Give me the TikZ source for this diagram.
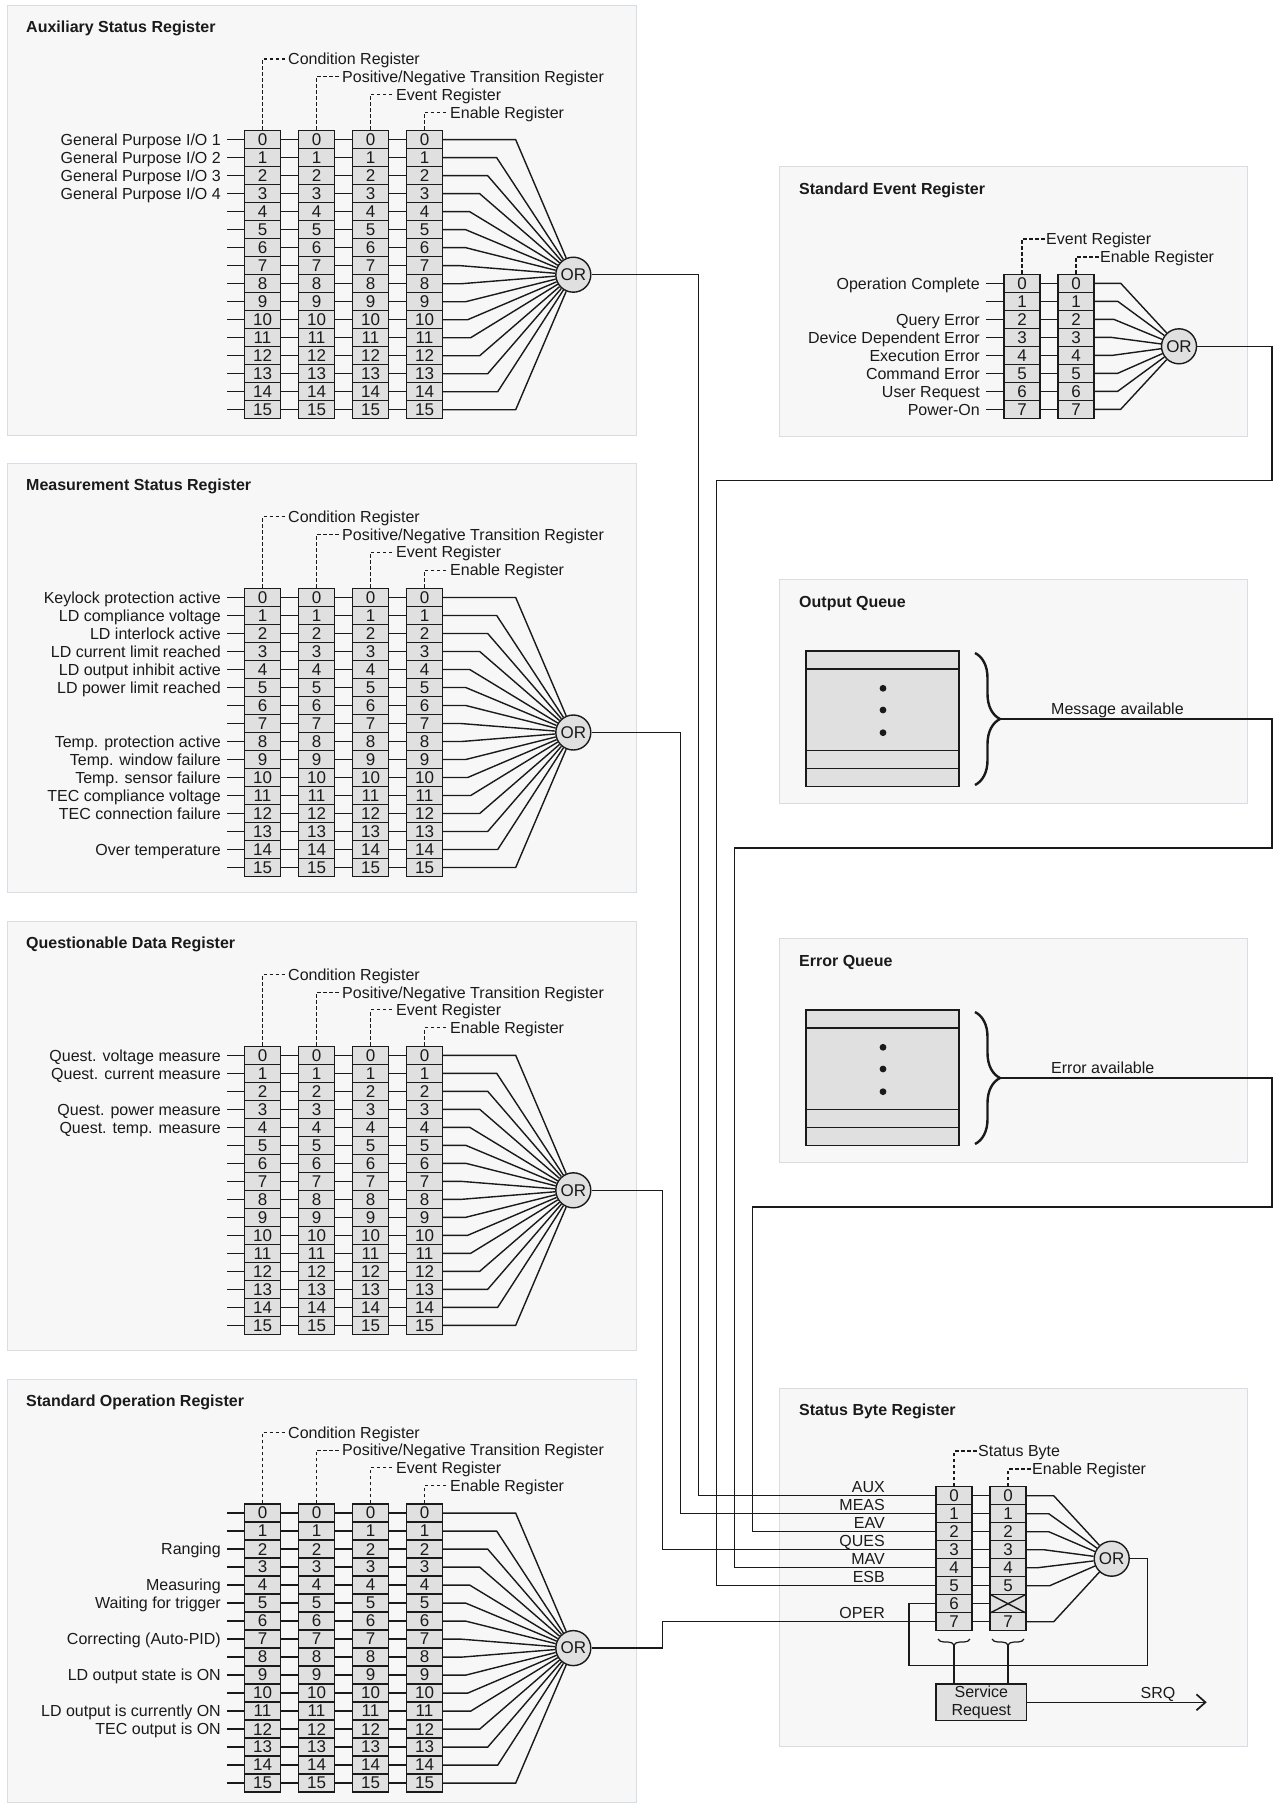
\documentclass[tikz,border=0pt]{standalone}
\usepackage{fontspec}
\setmainfont{Liberation Sans}
\usetikzlibrary{calc,decorations.pathreplacing,arrows.meta}
\definecolor{panelfill}{HTML}{F7F7F7}
\definecolor{panelline}{HTML}{D8DDE4}
\definecolor{cellfill}{HTML}{E0E0E0}
\definecolor{ink}{HTML}{1A1A1A}
\newcommand\dfont{\fontsize{16}{18}\selectfont}
\newcommand\cfont{\fontsize{17}{18}\selectfont}
\tikzset{
  panel/.style={draw=panelline,fill=panelfill,line width=1pt},
  cell/.style={draw=ink,fill=cellfill,line width=1.4pt,minimum width=36pt,minimum height=18pt,inner sep=0pt,font=\cfont,text=ink},
  wire/.style={draw=ink,line width=1.4pt},
  orgate/.style={circle,draw=ink,fill=cellfill,line width=1.4pt,minimum size=35pt,inner sep=0pt,font=\cfont,text=ink},
  lbl/.style={inner sep=0pt,font=\dfont,text=ink,anchor=east,text height=11.5pt,text depth=0pt},
  blbl/.style={inner sep=0pt,font=\dfont,text=ink,anchor=base east},
  ttl/.style={inner sep=0pt,font=\dfont\bfseries,text=ink,anchor=base west},
  dlbl/.style={inner xsep=1.5pt,inner ysep=0pt,font=\dfont,text=ink,anchor=west,text height=11.5pt,text depth=0pt},
  dsh/.style={draw=ink,line width=1.1pt,dash pattern=on 3.5pt off 2.5pt},
  qcell/.style={draw=ink,fill=cellfill,line width=1.4pt,inner sep=0pt,minimum width=153pt},
  bigbrace/.style={draw=ink,line width=2.4pt,decorate,decoration={brace,amplitude=25pt}},
  smallbrace/.style={draw=ink,line width=1.2pt,decorate,decoration={brace,amplitude=6pt}},
}
% left 16-bit register panel: #1 prefix, #2 top, #3 title, #4 height
\newcommand\leftreg[4]{%
  \path[panel] (7,#2) rectangle (636,{#2+#4});
  \node[ttl] (#1-t) at (26,{#2+27}) {#3};
  \foreach \c in {0,1,2,3}{%
    \foreach \r in {0,...,15}{%
      \node[cell] (#1-\c-\r) at ({262.5+54*\c},{#2+133.7+18*\r}) {\r};
    }%
  }%
  \node[orgate] (#1-or) at (573.3,{#2+268.7}) {OR};
  \foreach \r/\fx in {0/515,1/496,2/487,3/479,4/469,5/465,6/465,7/460,8/461,9/465,10/467,11/470,12/479,13/487,14/497,15/515}{%
    \coordinate (#1-s-\r) at (227,{#2+133.7+18*\r});
    \draw[wire] (#1-s-\r) -- (#1-0-\r.west);
    \draw[wire] (#1-0-\r.east) -- (#1-1-\r.west);
    \draw[wire] (#1-1-\r.east) -- (#1-2-\r.west);
    \draw[wire] (#1-2-\r.east) -- (#1-3-\r.west);
    \draw[wire] (#1-3-\r.east) -- ++({\fx-442.5},0) -- (#1-or);
  }%
  \node[dlbl] (#1-d0) at (286.5,{#2+53}) {Condition Register};
  \node[dlbl] (#1-d1) at (340.5,{#2+70.7}) {Positive/Negative Transition Register};
  \node[dlbl] (#1-d2) at (394.5,{#2+88.3}) {Event Register};
  \node[dlbl] (#1-d3) at (448.5,{#2+106.3}) {Enable Register};
  \draw[dsh] (#1-0-0.north) |- (#1-d0.west);
  \draw[dsh] (#1-1-0.north) |- (#1-d1.west);
  \draw[dsh] (#1-2-0.north) |- (#1-d2.west);
  \draw[dsh] (#1-3-0.north) |- (#1-d3.west);
}
\newcommand\inlbl[3]{\node[lbl] (#1-l#2) at ($(#1-s-#2)+(-6,0)$) {#3};}
% queue panel: #1 prefix, #2 top, #3 title, #4 message
\newcommand\queue[4]{%
  \path[panel] (779,#2) rectangle (1247,{#2+224});
  \node[ttl] (#1-t) at (799,{#2+28}) {#3};
  \node[qcell,minimum height=18pt] (#1-a) at (882.5,{#2+81}) {};
  \node[qcell,minimum height=81.3pt] (#1-b) at (882.5,{#2+130.65}) {};
  \node[qcell,minimum height=18pt] (#1-c) at (882.5,{#2+180.3}) {};
  \node[qcell,minimum height=18.4pt] (#1-d) at (882.5,{#2+198.5}) {};
  \fill[ink] (883,{#2+109.3}) circle (3.4pt);
  \fill[ink] (883,{#2+131}) circle (3.4pt);
  \fill[ink] (883,{#2+153.7}) circle (3.4pt);
  \draw[bigbrace] (975,{#2+74}) -- (975,{#2+206});
  \coordinate (#1-tip) at (1000,{#2+140});
  \node[anchor=base west,inner sep=0pt,font=\dfont,text=ink] (#1-m) at (1051,{#2+135}) {#4};
}
\begin{document}
\begin{tikzpicture}[x=1pt,y=-1pt]
\useasboundingbox (0,0) rectangle (1277,1803);
\fill[white] (0,0) rectangle (1277,1803);

% ---------- left panels ----------
\leftreg{a}{6}{Auxiliary Status Register}{429}
\inlbl{a}{0}{General Purpose I/O 1}
\inlbl{a}{1}{General Purpose I/O 2}
\inlbl{a}{2}{General Purpose I/O 3}
\inlbl{a}{3}{General Purpose I/O 4}

\leftreg{m}{463.8}{Measurement Status Register}{429}
\inlbl{m}{0}{Keylock protection active}
\inlbl{m}{1}{LD compliance voltage}
\inlbl{m}{2}{LD interlock active}
\inlbl{m}{3}{LD current limit reached}
\inlbl{m}{4}{LD output inhibit active}
\inlbl{m}{5}{LD power limit reached}
\inlbl{m}{8}{Temp. protection active}
\inlbl{m}{9}{Temp. window failure}
\inlbl{m}{10}{Temp. sensor failure}
\inlbl{m}{11}{TEC compliance voltage}
\inlbl{m}{12}{TEC connection failure}
\inlbl{m}{14}{Over temperature}

\leftreg{q}{921.6}{Questionable Data Register}{429}
\inlbl{q}{0}{Quest. voltage measure}
\inlbl{q}{1}{Quest. current measure}
\inlbl{q}{3}{Quest. power measure}
\inlbl{q}{4}{Quest. temp. measure}

\leftreg{o}{1379.4}{Standard Operation Register}{422.6}
\inlbl{o}{2}{Ranging}
\inlbl{o}{4}{Measuring}
\inlbl{o}{5}{Waiting for trigger}
\inlbl{o}{7}{Correcting (Auto-PID)}
\inlbl{o}{9}{LD output state is ON}
\inlbl{o}{11}{LD output is currently ON}
\inlbl{o}{12}{TEC output is ON}

% ---------- Standard Event Register ----------
\path[panel] (779,167) rectangle (1247,436);
\node[ttl] (se-t) at (799,194.5) {Standard Event Register};
\foreach \c in {0,1}{\foreach \r in {0,...,7}{%
  \node[cell] (se-\c-\r) at ({1022+54*\c},{283.3+18*\r}) {\r};}}
\node[orgate] (se-or) at (1179,346.3) {OR};
\foreach \r/\fx in {0/1120,1/1117,2/1113,3/1110,4/1112,5/1117,6/1117,7/1120}{%
  \coordinate (se-s-\r) at (986,{283.3+18*\r});
  \draw[wire] (se-s-\r) -- (se-0-\r.west);
  \draw[wire] (se-0-\r.east) -- (se-1-\r.west);
  \draw[wire] (se-1-\r.east) -- ++({\fx-1094},0) -- (se-or);
}
\inlbl{se}{0}{Operation Complete}
\inlbl{se}{2}{Query Error}
\inlbl{se}{3}{Device Dependent Error}
\inlbl{se}{4}{Execution Error}
\inlbl{se}{5}{Command Error}
\inlbl{se}{6}{User Request}
\inlbl{se}{7}{Power-On}
\node[dlbl] (se-d0) at (1044.5,239) {Event Register};
\node[dlbl] (se-d1) at (1098.5,257) {Enable Register};
\draw[dsh] (se-0-0.north) |- (se-d0.west);
\draw[dsh] (se-1-0.north) |- (se-d1.west);

% ---------- queues ----------
\queue{oq}{579}{Output Queue}{Message available}
\queue{eq}{938}{Error Queue}{Error available}

% ---------- Status Byte Register ----------
\path[panel] (779,1388) rectangle (1247,1746);
\node[ttl] (sb-t) at (799,1415.5) {Status Byte Register};
\foreach \c in {0,1}{\foreach \r in {0,...,7}{%
  \node[cell] (sb-\c-\r) at ({954+54*\c},{1495.7+18*\r}) {\ifnum\c=1 \ifnum\r=6 \else\r\fi\else\r\fi};}}
\draw[wire] (sb-1-6.north west) -- (sb-1-6.south east);
\draw[wire] (sb-1-6.north east) -- (sb-1-6.south west);
\node[orgate] (sb-or) at (1111.7,1558.7) {OR};
\foreach \r in {0,...,7}{\draw[wire] (sb-0-\r.east) -- (sb-1-\r.west);}
\foreach \r/\fx in {0/1053,1/1048,2/1048,3/1043,4/1037,5/1049,7/1053}{%
  \draw[wire] (sb-1-\r.east) -- ++({\fx-1026},0) -- (sb-or);
}
\node[dlbl] (sb-d0) at (976.5,1451) {Status Byte};
\node[dlbl] (sb-d1) at (1030.5,1469) {Enable Register};
\draw[dsh] (sb-0-0.north) |- (sb-d0.west);
\draw[dsh] (sb-1-0.north) |- (sb-d1.west);

\node[blbl] (sb-l0) at (885,1492.3) {AUX};
\node[blbl] (sb-l1) at (885,1510.3) {MEAS};
\node[blbl] (sb-l2) at (885,1528.3) {EAV};
\node[blbl] (sb-l3) at (885,1546.3) {QUES};
\node[blbl] (sb-l4) at (885,1564.3) {MAV};
\node[blbl] (sb-l5) at (885,1582.3) {ESB};
\node[blbl] (sb-l7) at (885,1618.3) {OPER};

% feedback loop of OR to bit 6
\coordinate (fb1) at (1147.7,1665.7);
\coordinate (fb2) at (909,1665.7);
\draw[wire] (sb-or.east) -| (fb1) -- (fb2) |- (sb-0-6.west);

% service request
\node[cell,font=\dfont,minimum width=90.7pt,minimum height=36.7pt,align=center] (sr) at (981.3,1702.3) {Service\\Request};
\draw[smallbrace] (970,1639) -- (938,1639);
\draw[smallbrace] (1024,1639) -- (992,1639);
\coordinate (bt1) at (954,1645);
\coordinate (bt2) at (1008,1645);
\draw[wire] (bt1) -- (bt1 |- sr.north);
\draw[wire] (bt2) -- (bt2 |- sr.north);
\coordinate (srq) at (1206.7,1702.3);
\draw[wire,-{Straight Barb[length=9pt,width=16pt,line width=1.7pt]}] (sr.east) -- (srq);
\node[anchor=base,inner sep=0pt,font=\dfont,text=ink] (srq-l) at (1158,1698) {SRQ};

% ---------- connections into the Status Byte ----------
\coordinate (w-aux) at (698.3,1495.7);
\draw[wire] (a-or.east) -| (w-aux) -- (sb-0-0.west);
\coordinate (w-meas) at (680.7,1513.7);
\draw[wire] (m-or.east) -| (w-meas) -- (sb-0-1.west);
\coordinate (w-ques) at (662.3,1549.7);
\draw[wire] (q-or.east) -| (w-ques) -- (sb-0-3.west);
\coordinate (w-oper) at (662.3,1621.7);
\draw[wire] (o-or.east) -| (w-oper) -- (sb-0-7.west);
\coordinate (w-esb1) at (1272,480.5);
\coordinate (w-esb2) at (716.7,480.5);
\draw[wire] (se-or.east) -| (w-esb1) -- (w-esb2) |- (sb-0-5.west);
\coordinate (w-mav1) at (1272,848);
\coordinate (w-mav2) at (734.3,848);
\draw[wire] (oq-tip) -| (w-mav1) -- (w-mav2) |- (sb-0-4.west);
\coordinate (w-eav1) at (1272,1207);
\coordinate (w-eav2) at (752.3,1207);
\draw[wire] (eq-tip) -| (w-eav1) -- (w-eav2) |- (sb-0-2.west);
\end{tikzpicture}
\end{document}
